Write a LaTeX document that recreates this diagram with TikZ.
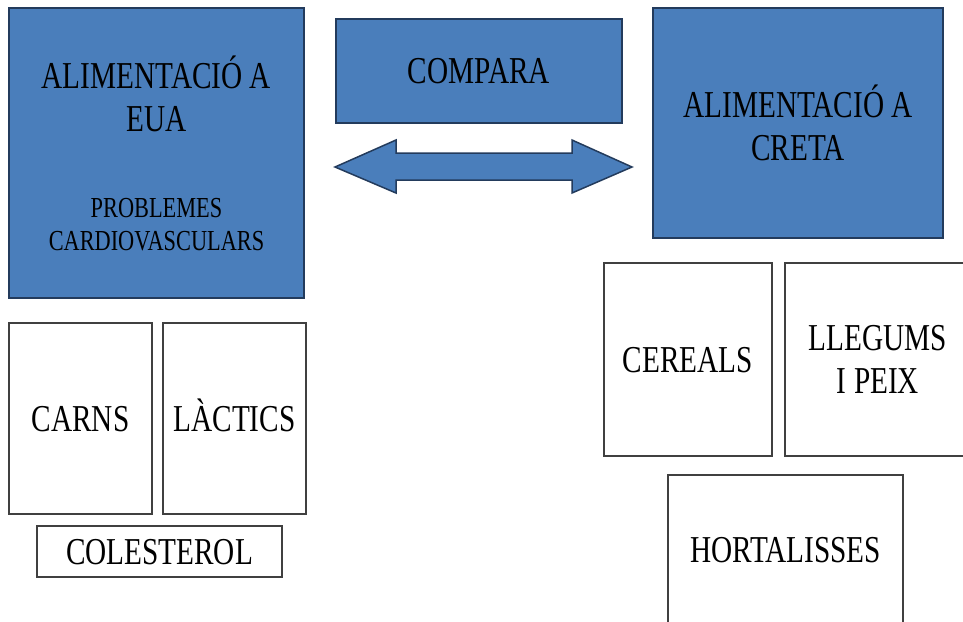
\documentclass[tikz,border=0pt]{standalone}
\usepackage{fontspec}
\setmainfont{Liberation Serif}[FakeStretch=0.77]
\usepackage{tikz}
\usetikzlibrary{calc,positioning}
\definecolor{boxblue}{HTML}{4A7EBB}
\definecolor{boxline}{HTML}{233B5C}
\definecolor{greyline}{HTML}{404040}
\newcommand{\probfont}{\fontsize{29}{33}\selectfont}

\begin{document}
\begin{tikzpicture}[x=1pt,y=-1pt,
		bluebox/.style={draw=boxline, line width=1.5pt, fill=boxblue, align=center, inner sep=0pt, font=\fontsize{38}{43}\selectfont},
		whitebox/.style={draw=greyline, line width=1.5pt, fill=white, align=center, inner sep=0pt, font=\fontsize{38}{43}\selectfont},
		oneline/.style={text height=25pt, text depth=0pt}]
		\useasboundingbox (0,0) rectangle (963,621);
		\clip (0,0) rectangle (963,621);
		% blue boxes
		\node[bluebox, minimum width=295pt, minimum height=290pt] at (156.5,153) (eua) {ALIMENTACIÓ A\\EUA\\[43pt]\probfont PROBLEMES\\[-10pt]\probfont CARDIOVASCULARS};
		\node[bluebox, oneline, minimum width=286pt, minimum height=104pt] at (479,71) (compara) {COMPARA};
		\node[bluebox, minimum width=290pt, minimum height=230pt] at (798,123) (creta) {ALIMENTACIÓ A\\CRETA};
		\draw[draw=boxline, line width=1.5pt, fill=boxblue] (335,167) -- (396,140) -- (396,153) -- (572,153) -- (572,140) -- (632,167)
			-- (572,193) -- (572,180) -- (396,180) -- (396,193) -- cycle;
		% white boxes
		\node[whitebox, oneline, minimum width=143pt, minimum height=191pt] at (80.5,418.5) (carns) {CARNS};
		\node[whitebox, oneline, minimum width=143pt, minimum height=191pt] at (234.5,418.5) (lactics) {LÀCTICS};
		\node[whitebox, oneline, minimum width=245pt, minimum height=51pt] at (159.5,551.5) (colesterol) {COLESTEROL};
		\node[whitebox, oneline, minimum width=168pt, minimum height=193pt] at (688,359.5) (cereals) {CEREALS};
		\node[whitebox, minimum width=186pt, minimum height=193pt] at (878,359.5) (llegums) {LLEGUMS\\I PEIX};
		\node[whitebox, oneline, minimum width=235pt, minimum height=150pt] at (785.5,550) (hortalisses) {HORTALISSES};
\end{tikzpicture}
\end{document}
